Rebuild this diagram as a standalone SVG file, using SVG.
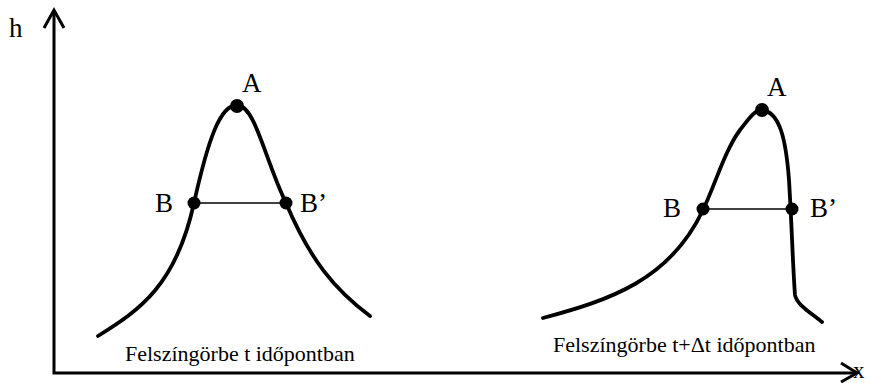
<svg xmlns="http://www.w3.org/2000/svg" width="869" height="383" viewBox="0 0 869 383">
<style>
.ax{stroke:#000;stroke-width:3;fill:none}
.cv{stroke:#000;stroke-width:3.8;fill:none;stroke-linecap:round}
.hl{stroke:#000;stroke-width:1.5}
text{font-family:"Liberation Serif","Times New Roman",serif;fill:#000}
.lbl{font-size:27px}
.cap{font-size:22px}
</style>
<rect width="869" height="383" fill="#fff"/>
<g id="axes">
<polyline class="ax" points="54,12 54,373 855,373"/>
<polyline class="ax" points="44,28 54,10 64,28"/>
<polyline class="ax" points="841,363 857,373 841,382"/>
<text class="lbl" x="9" y="37">h</text>
<text x="853" y="378" font-size="23px">x</text>
</g>
<g id="curve1">
<path class="cv" d="M98,336 C140,310 176,285 194,203 C208,140 220,105 237,105 C255,105 265,160 286,203 C310,260 335,290 370,316"/>
<line class="hl" x1="194" y1="203" x2="286" y2="203"/>
<circle cx="194" cy="203" r="6.5"/>
<circle cx="286" cy="203" r="6.5"/>
<circle cx="237" cy="106" r="7"/>
<text class="lbl" x="242" y="92">A</text>
<text class="lbl" x="155" y="212">B</text>
<text class="lbl" x="300" y="212">B’</text>
<text class="cap" x="125" y="361">Felszíngörbe t időpontban</text>
</g>
<g id="curve2">
<path class="cv" d="M543,318 C610,300 670,280 703,210 C715,185 725,150 740,130 C750,117 755,110 762,110 C780,112 786,140 789,180 C792,230 793,270 795,295 C797,305 810,312 822,322"/>
<line class="hl" x1="703" y1="209" x2="792" y2="209"/>
<circle cx="703" cy="209" r="6.5"/>
<circle cx="792" cy="209" r="6.5"/>
<circle cx="762" cy="110" r="7"/>
<text class="lbl" x="767" y="96">A</text>
<text class="lbl" x="663" y="217">B</text>
<text class="lbl" x="810" y="217">B’</text>
<text class="cap" x="553" y="352">Felszíngörbe t+Δt időpontban</text>
</g>
</svg>
